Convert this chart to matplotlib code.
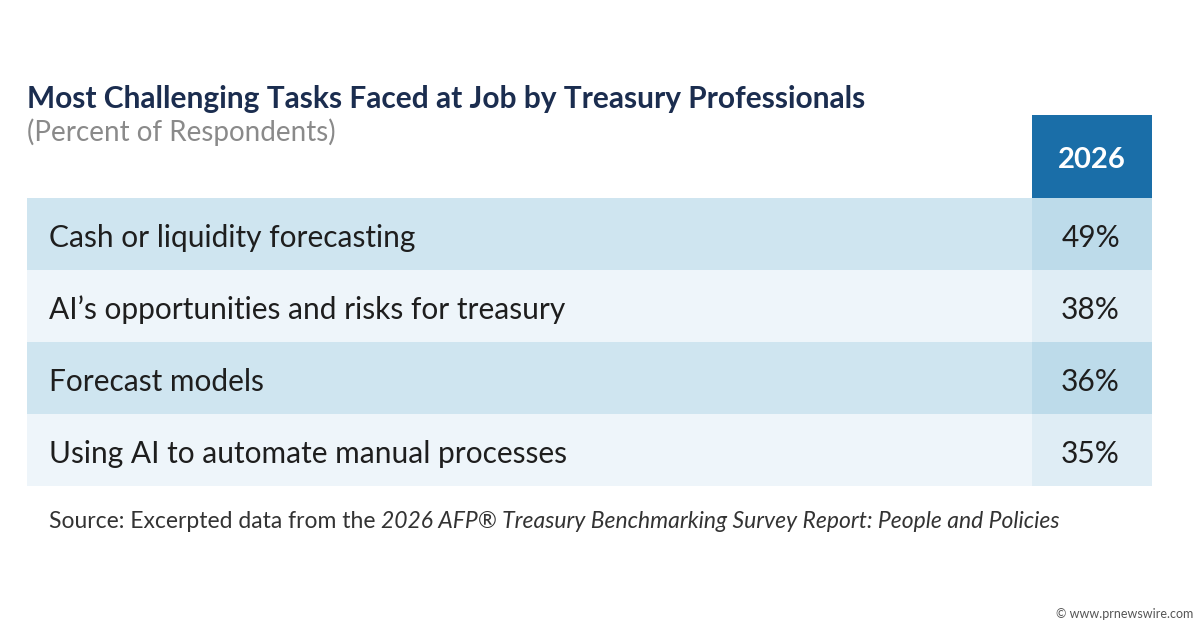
import matplotlib
matplotlib.use("Agg")
import matplotlib.pyplot as plt
from matplotlib.patches import Rectangle

title = "Most Challenging Tasks Faced at Job by Treasury Professionals"
subtitle = "(Percent of Respondents)"
year = "2026"
tasks = [
    "Cash or liquidity forecasting",
    "AI\u2019s opportunities and risks for treasury",
    "Forecast models",
    "Using AI to automate manual processes",
]
values = [49, 38, 36, 35]

plt.rcParams["font.family"] = ["Lato", "DejaVu Sans"]

fig = plt.figure(figsize=(12, 6.28), dpi=100)
ax = fig.add_axes([0, 0, 1, 1])
ax.set_xlim(0, 1200)
ax.set_ylim(628, 0)
ax.axis("off")

ax.text(27, 99, title, fontsize=21.5, fontweight="bold", color="#1b2d4f", va="center")
ax.text(27, 132, subtitle, fontsize=20, color="#8a8a8a", va="center")

# header cell
ax.add_patch(Rectangle((1032, 115), 120, 83, color="#1a6ea8", lw=0))
ax.text(1092, 160, year, fontsize=21, fontweight="bold", color="white", ha="center", va="center")

top, h = 198, 72
for i, (task, v) in enumerate(zip(tasks, values)):
    y = top + i * h
    light = i % 2 == 1
    ax.add_patch(Rectangle((27, y), 1005, h, color="#eef5fa" if light else "#cfe5f0", lw=0))
    ax.add_patch(Rectangle((1032, y), 120, h, color="#dfedf5" if light else "#bddbea", lw=0))
    ax.text(49, y + h / 2 + 4, task, fontsize=21.5, color="#1e1e1e", va="center")
    ax.text(1120, y + h / 2 + 4, f"{v}%", fontsize=21.5, color="#1e1e1e", ha="right", va="center")

src = ax.text(49, 521, "Source: Excerpted data from the ", fontsize=16.5, color="#333333", va="center")
fig.canvas.draw()
bb = src.get_window_extent()
ax.text(bb.x1 * 1200 / fig.bbox.width, 521,
        "2026 AFP\u00ae Treasury Benchmarking Survey Report: People and Policies",
        fontsize=16.5, color="#333333", style="italic", va="center")
ax.text(1193, 614, "\u00a9 www.prnewswire.com", fontsize=9, color="#555555", ha="right", va="center")

fig.savefig("out.png", dpi=100)
